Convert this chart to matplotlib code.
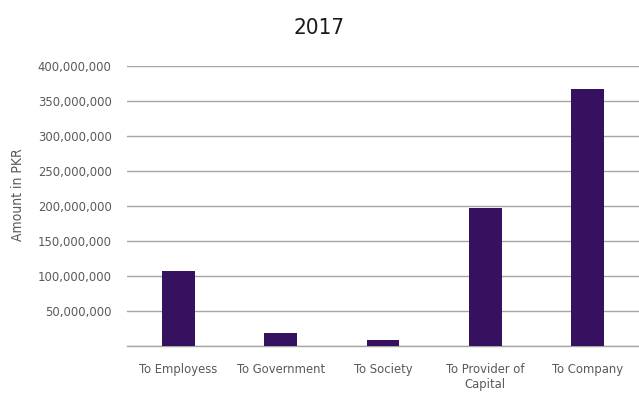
import matplotlib
matplotlib.use("Agg")
from matplotlib import pyplot as plt
from matplotlib.ticker import FuncFormatter
import numpy as np

categories = ["To Employess", "To Government", "To Society", "To Provider of\nCapital", "To Company"]
amounts = [107000000, 18000000, 8000000, 197000000, 367000000]
yticks = np.arange(0, 400000001, 50000000)

plt.rcParams['font.family'] = ['DejaVu Sans']
plt.rcParams['font.stretch'] = 'condensed'

fig = plt.figure(figsize=(6.39, 3.96), dpi=100)
ax = fig.add_axes([0.1987, 0.1263, 0.8013, 0.707])

x = np.arange(len(categories))
ax.bar(x, amounts, width=0.32, color="#361160", zorder=3)

ax.set_xlim(-0.5, 4.5)
ax.set_ylim(0, 400000000)
ax.set_yticks(yticks)
ax.yaxis.set_major_formatter(FuncFormatter(lambda v, p: "" if v == 0 else "{:,.0f}".format(v)))
ax.set_xticks(x)
ax.set_xticklabels(categories)

ax.grid(axis="y", color="#a6a6a6", linewidth=1.0, zorder=0)
for s in ["top", "right", "left"]:
    ax.spines[s].set_visible(False)
ax.spines["bottom"].set_color("#a6a6a6")
ax.spines["bottom"].set_linewidth(1.0)
ax.tick_params(axis="both", length=0, labelsize=9.3, labelcolor="#595959")
ax.tick_params(axis="y", pad=11)
ax.tick_params(axis="x", pad=12)

fig.text(18 / 639, 1 - 195 / 396, "Amount in PKR", rotation=90, ha="center", va="center",
         fontsize=10, color="#595959")
fig.text(0.5, 0.93, "2017", ha="center", va="center", fontsize=16, color="#1a1a1a")

fig.savefig("out.png", dpi=100)
